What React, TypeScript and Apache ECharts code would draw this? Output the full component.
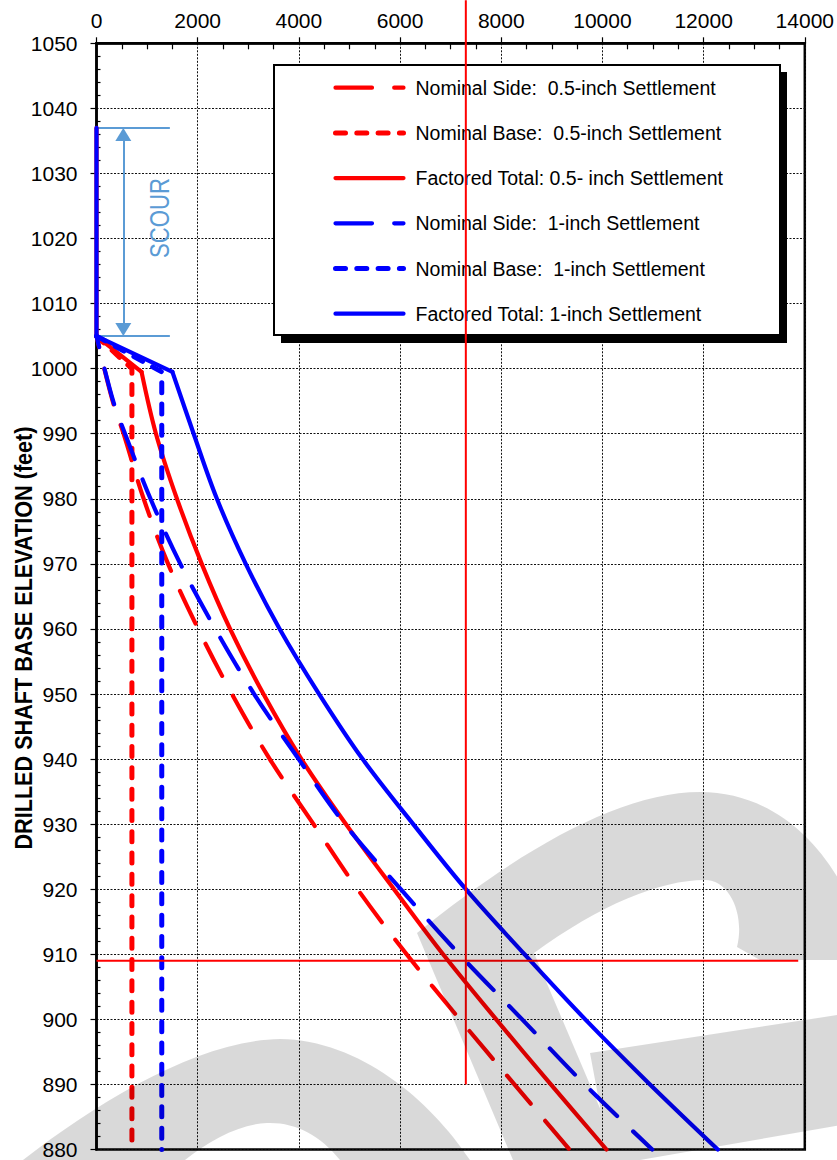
import { useEffect, useRef } from "react";
import * as echarts from "echarts";

// Axis ranges (tick labels every step)
const resistanceAxis = { min: 0, max: 14000, step: 2000 };
const elevationAxis = { min: 880, max: 1050, step: 10 };

// Factored total resistance curves (elevation in ft, resistance in kips).
// The first three points are the straight run through the scour zone to the
// top of rock; the rest is the curved part below it.
const totalElevations = [1037, 1005, 999.5, 990, 980, 970, 960, 950, 940, 930, 920, 910, 900, 890, 880];
const factoredTotalHalfInch = [0, 0, 890, 1175, 1590, 2080, 2640, 3300, 4050, 4930, 5880, 6850, 7900, 8980, 10080];
const factoredTotalOneInch = [0, 0, 1500, 1920, 2380, 2950, 3620, 4400, 5260, 6260, 7300, 8460, 9660, 10940, 12280];
const totalKinkIndex = 2;

// Nominal side resistance curves
const sideElevations = [1005, 995, 990, 980, 970, 960, 950, 940, 930, 920, 910, 900, 890, 880];
const nominalSideHalfInch = [0, 320, 535, 932, 1415, 2009, 2677, 3425, 4290, 5160, 6130, 7180, 8260, 9350];
const nominalSideOneInch = [0, 330, 564, 1067, 1657, 2347, 3116, 3996, 4908, 6013, 7171, 8413, 9649, 10984];

// Nominal base resistance curves
const baseHalfInchElevations = [1005, 1000, 880];
const nominalBaseHalfInch = [0, 700, 700];
const baseOneInchElevations = [1005, 999.5, 880];
const nominalBaseOneInch = [0, 1290, 1290];

// Reference lines
const requiredResistance = 7300;
const requiredResistanceElevations = [890, 1056.6];
const designTipElevation = 909;
const designTipSpan = [0, 13870];

// Scour zone annotation
const scourElevations = [1037, 1005];
const scourSpan = [-65, 1450];
const scourArrowX = 530;

const RED = "#ff0000";
const BLUE = "#0000ff";
const SCOUR_BLUE = "#5b9bd5";
const FONT = '"Liberation Sans", Arial, sans-serif';

const SIDE_DASH = [36.5, 22.2];
const BASE_DASH = [10, 11.3];

type Curve = {
  name: string;
  color: string;
  dash: any;
  width: number;
  offset: number;
  xs: number[];
  ys: number[];
  kink?: number;
};

const curveDefs: Curve[] = [
  { name: "Nominal Side:  0.5-inch Settlement", color: RED, dash: SIDE_DASH, width: 4.2, offset: 25, xs: nominalSideHalfInch, ys: sideElevations },
  { name: "Nominal Base:  0.5-inch Settlement", color: RED, dash: BASE_DASH, width: 5, offset: 0, xs: nominalBaseHalfInch, ys: baseHalfInchElevations },
  { name: "Factored Total: 0.5- inch Settlement", color: RED, dash: "solid", width: 4.2, offset: 0, xs: factoredTotalHalfInch, ys: totalElevations, kink: totalKinkIndex },
  { name: "Nominal Side:  1-inch Settlement", color: BLUE, dash: SIDE_DASH, width: 4.2, offset: 25, xs: nominalSideOneInch, ys: sideElevations },
  { name: "Nominal Base:  1-inch Settlement", color: BLUE, dash: BASE_DASH, width: 5, offset: 0, xs: nominalBaseOneInch, ys: baseOneInchElevations },
  { name: "Factored Total: 1-inch Settlement", color: BLUE, dash: "solid", width: 4.2, offset: 0, xs: factoredTotalOneInch, ys: totalElevations, kink: totalKinkIndex },
];

// Faint logo printed across the lower part of the sheet
const WATERMARK_PATH =
  "M23 1160 C100 1100 200 1040 280 1039 C360 1040 430 1100 470 1160 L340 1160 C320 1135 295 1122 267 1123 C240 1124 210 1140 185 1160 Z " +
  "M417 933 L534 953 L622 1160 L513 1160 Z " +
  "M417 933 C520 850 620 792 700 792 C790 792 850 870 870 960 L760 960 L737 947 C745 915 730 880 705 880 C660 880 600 905 534 953 Z " +
  "M590 1053 L870 1010 L870 1120 L640 1160 L610 1160 Z";

echarts.graphic.registerShape("watermark", echarts.graphic.extendPath(WATERMARK_PATH, {}));

const zip = (xs: number[], ys: number[]) => xs.map((x, i) => [x, ys[i]]);
const plain = (v: number) => String(v);

export default function App() {
  const ref = useRef<HTMLDivElement>(null);

  useEffect(() => {
    if (!ref.current) return;
    const chart = echarts.init(ref.current, null, { renderer: "svg" });

    const lineOf = (c: Curve, data: number[][], smooth: number | boolean) => ({
      type: "line",
      name: c.name,
      xAxisIndex: 0,
      yAxisIndex: 0,
      data,
      symbol: "none",
      showSymbol: false,
      smooth,
      clip: false,
      z: 3,
      itemStyle: { color: c.color },
      lineStyle: { color: c.color, width: c.width, type: c.dash, cap: "round", join: "round", dashOffset: c.offset },
    });

    const curveSeries: any[] = [];
    curveDefs.forEach((c) => {
      const pts = zip(c.xs, c.ys);
      if (c.kink != null) {
        // straight run down to the top of rock, then the smooth curve
        curveSeries.push(lineOf(c, pts.slice(0, c.kink + 1), false));
        curveSeries.push(lineOf(c, pts.slice(c.kink), 0.35));
      } else if (c.dash === SIDE_DASH) {
        curveSeries.push(lineOf(c, pts, 0.35));
      } else {
        curveSeries.push(lineOf(c, pts, false));
      }
    });

    const refLine = (id: string, data: number[][], color: string, width: number, z: number, extra: any = {}) => ({
      type: "line",
      id,
      name: id,
      xAxisIndex: 0,
      yAxisIndex: 0,
      data,
      symbol: "none",
      showSymbol: false,
      clip: false,
      silent: true,
      z,
      itemStyle: { color },
      lineStyle: { color, width, type: "solid" },
      ...extra,
    });

    const option: any = {
      animation: false,
      textStyle: { fontFamily: FONT },
      grid: {
        left: 96.5,
        top: 43.3,
        right: 29.5,
        bottom: 7.7,
        show: true,
        borderColor: "#000",
        borderWidth: 2.5,
        backgroundColor: "transparent",
      },
      xAxis: [
        {
          type: "value",
          position: "top",
          min: resistanceAxis.min,
          max: resistanceAxis.max,
          interval: resistanceAxis.step,
          axisLine: { show: true, onZero: false, lineStyle: { color: "#000", width: 2.5 } },
          axisTick: { show: true, inside: false, length: 6, lineStyle: { color: "#000", width: 1.2 } },
          minorTick: { show: false },
          axisLabel: { show: true, margin: 12, fontSize: 21, color: "#000", fontFamily: FONT, formatter: plain },
          splitLine: { show: true, lineStyle: { color: "#111", width: 1, type: [2, 1.5] } },
        },
        {
          type: "value",
          position: "top",
          min: resistanceAxis.min,
          max: resistanceAxis.max,
          interval: resistanceAxis.step,
          axisLine: { show: false, onZero: false },
          axisTick: { show: false, inside: true },
          minorTick: { show: true, splitNumber: 4, length: 6, lineStyle: { color: "#000", width: 1.2 } },
          axisLabel: { show: false },
          splitLine: { show: false },
        },
      ],
      yAxis: [
        {
          type: "value",
          position: "left",
          min: elevationAxis.min,
          max: elevationAxis.max,
          interval: elevationAxis.step,
          axisLine: { show: true, onZero: false, lineStyle: { color: "#000", width: 2.5 } },
          axisTick: { show: true, inside: false, length: 6, lineStyle: { color: "#000", width: 1.2 } },
          minorTick: { show: false },
          axisLabel: { show: true, margin: 19, fontSize: 21, color: "#000", fontFamily: FONT, formatter: plain },
          splitLine: { show: true, lineStyle: { color: "#111", width: 1, type: [2, 1.5] } },
        },
        {
          type: "value",
          position: "left",
          min: elevationAxis.min,
          max: elevationAxis.max,
          interval: elevationAxis.step,
          axisLine: { show: false, onZero: false },
          axisTick: { show: false, inside: true },
          minorTick: { show: true, splitNumber: 5, length: 4, lineStyle: { color: "#000", width: 1.2 } },
          axisLabel: { show: false },
          splitLine: { show: false },
        },
      ],
      legend: {
        show: true,
        orient: "vertical",
        left: 333,
        top: 77.7,
        padding: 0,
        itemWidth: 68,
        itemHeight: 20,
        itemGap: 25.2,
        selectedMode: false,
        z: 4,
        data: curveDefs.map((c) => c.name),
        itemStyle: { color: "rgba(0,0,0,0)", borderColor: "rgba(0,0,0,0)", borderWidth: 0, opacity: 0 },
        lineStyle: { width: "inherit", dashOffset: 0 },
        textStyle: { fontSize: 19.5, color: "#000", fontFamily: FONT, padding: [0, 0, 0, 7] },
      },
      graphic: [
        {
          type: "rect",
          z: 1,
          silent: true,
          shape: { x: 281, y: 72, width: 506, height: 271 },
          style: { fill: "#000" },
        },
        {
          type: "rect",
          z: 1,
          silent: true,
          shape: { x: 274, y: 65, width: 506, height: 270 },
          style: { fill: "#fff", stroke: "#000", lineWidth: 2 },
        },
        {
          type: "text",
          z: 5,
          silent: true,
          x: 160,
          y: 218,
          rotation: Math.PI / 2,
          scaleX: 0.82,
          style: {
            text: "SCOUR",
            fill: SCOUR_BLUE,
            fontSize: 27,
            fontFamily: FONT,
            align: "center",
            verticalAlign: "middle",
          },
        },
        {
          type: "text",
          z: 5,
          silent: true,
          x: 24,
          y: 638,
          rotation: Math.PI / 2,
          scaleX: 0.94,
          style: {
            text: "DRILLED SHAFT BASE ELEVATION (feet)",
            fill: "#000",
            fontSize: 23,
            fontWeight: "bold",
            fontFamily: FONT,
            align: "center",
            verticalAlign: "middle",
          },
        },
        {
          type: "watermark",
          z: 10,
          silent: true,
          x: 0,
          y: 0,
          style: { fill: "rgba(0,0,0,0.15)" },
        },
      ],
      series: [
        refLine("scour-top", zip(scourSpan, [scourElevations[0], scourElevations[0]]), SCOUR_BLUE, 2, 2, {
          markLine: {
            silent: true,
            animation: false,
            symbol: ["triangle", "triangle"],
            symbolSize: [16, 13],
            label: { show: false },
            lineStyle: { color: SCOUR_BLUE, width: 2, type: "solid" },
            data: [
              [
                { coord: [scourArrowX, scourElevations[1] + 1.0] },
                { coord: [scourArrowX, scourElevations[0] - 1.0] },
              ],
            ],
          },
        }),
        refLine("scour-bottom", zip(scourSpan, [scourElevations[1], scourElevations[1]]), SCOUR_BLUE, 2, 2),
        ...curveSeries,
        refLine("design-tip", zip(designTipSpan, [designTipElevation, designTipElevation]), RED, 2, 6),
        refLine("required-resistance", zip([requiredResistance, requiredResistance], requiredResistanceElevations), RED, 2, 6),
      ],
    };

    chart.setOption(option);
    return () => chart.dispose();
  }, []);

  return <div ref={ref} style={{ position: "absolute", left: 0, top: 0, width: 837, height: 1160 }} />;
}
